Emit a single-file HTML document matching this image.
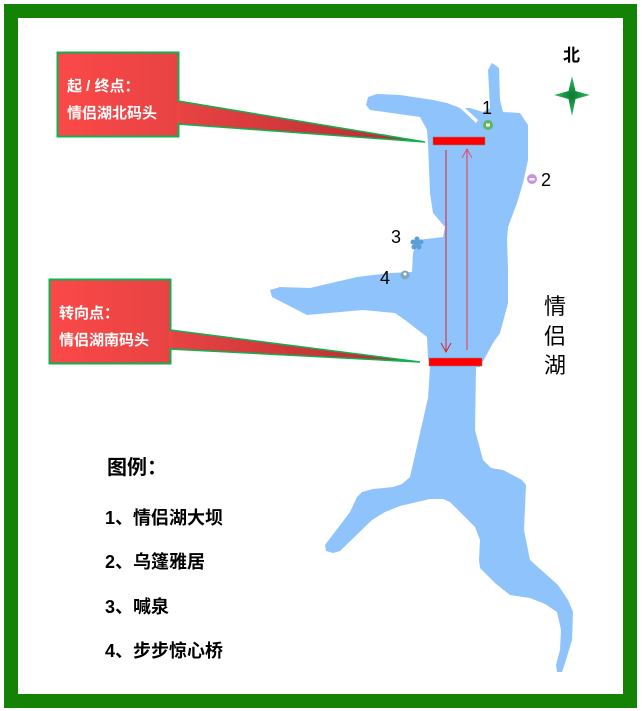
<!DOCTYPE html>
<html><head><meta charset="utf-8"><style>
body{margin:0;background:#fff;}
svg{display:block;}
text{font-family:"Liberation Sans","Noto Sans CJK SC",sans-serif;}
</style></head><body>
<svg width="642" height="711" viewBox="0 0 642 711" xmlns="http://www.w3.org/2000/svg">
<defs>
<linearGradient id="rg" x1="0" x2="1" y1="0" y2="0"><stop offset="0" stop-color="#fb4848"/><stop offset="1" stop-color="#e84343"/></linearGradient>
<linearGradient id="pg" x1="0" x2="1" y1="0" y2="0"><stop offset="0" stop-color="#e84343"/><stop offset="1" stop-color="#b22a30"/></linearGradient>
<radialGradient id="sg"><stop offset="0" stop-color="#0a7a30"/><stop offset="1" stop-color="#2fc060"/></radialGradient>
</defs>
<rect x="0" y="0" width="642" height="711" fill="#fff"/>
<rect x="11" y="11" width="619" height="690" fill="none" stroke="#138205" stroke-width="14"/>
<path fill="#8fc3fc" d="M492,63 L499,68 L500,100 L503,112 L520,113 L528,125 L528,160 L523,183 L517,203 L508,227 L507,240 L508,270 L508,303 L500,333 L493,343 L480,367 L476,367 L475,430 L483,460 L491,468 L503,470 L522,480 L526,485 L524,530 L530,560 L558,585 L568,600 L573,612 L572,640 L566,660 L562,672 L557,672 L556,665 L560,650 L561,630 L557,612 L545,604 L530,598 L510,595 L495,583 L480,568 L479,560 L480,540 L475,527 L455,507 L450,502 L443,499 L430,499 L400,506 L385,512 L372,520 L340,551 L333,553 L326,551 L325,545 L350,512 L357,497 L362,492 L373,489 L393,487 L402,484 L410,477 L428,398 L430,368 L428,358 L427,337 L405,320 L395,313 L363,310 L307,315 L272,297 L270,290 L280,287 L310,288 L357,277 L390,273 L412,272 L413,253 L418,240 L443,237 L445,227 L433,213 L430,193 L428,143 L427,130 L420,117 L370,110 L366,105 L368,97 L377,94 L400,95 L433,100 L447,103 L460,108 L473,120 L476,123 L478,120 L465,108 L470,108 L483,112 L490,108 L488,70 Z"/>
<polygon points="178,101 425,142 178,124" fill="url(#pg)" stroke="#10b050" stroke-width="1.5"/>
<rect x="57.5" y="52.5" width="121" height="84" fill="url(#rg)" stroke="#10b050" stroke-width="2"/>
<rect x="177" y="102" width="3" height="21" fill="#ee4545"/>
<text x="67" y="91" font-size="15" font-weight="bold" fill="#fff">起 / 终点：</text>
<text x="67" y="118" font-size="15" font-weight="bold" fill="#fff">情侣湖北码头</text>
<polygon points="170,330 420,362 170,349" fill="url(#pg)" stroke="#10b050" stroke-width="1.5"/>
<rect x="49.5" y="279.5" width="121" height="84" fill="url(#rg)" stroke="#10b050" stroke-width="2"/>
<rect x="169" y="331" width="3" height="17" fill="#ee4545"/>
<text x="59" y="318" font-size="15" font-weight="bold" fill="#fff">转向点：</text>
<text x="59" y="345" font-size="15" font-weight="bold" fill="#fff">情侣湖南码头</text>
<rect x="433" y="137" width="52" height="8" fill="#ff0000" stroke="#888" stroke-width="0.5"/>
<rect x="429" y="358" width="53" height="8" fill="#ff0000" stroke="#888" stroke-width="0.5"/>
<line x1="446" y1="150" x2="446" y2="352" stroke="#e02020" stroke-width="1"/>
<polyline points="441,343 446,352 451,343" fill="none" stroke="#e02020" stroke-width="1"/>
<line x1="467" y1="350" x2="467" y2="149" stroke="#e0506a" stroke-width="1.3"/>
<polyline points="462,158 467,149 472,158" fill="none" stroke="#e0506a" stroke-width="1"/>
<circle cx="488" cy="125" r="5" fill="#5cb85c"/><rect x="486" y="123.5" width="4" height="3" fill="#fff"/>
<text x="482" y="114" font-size="18" fill="#000">1</text>
<circle cx="532" cy="179" r="5" fill="#c890e8"/><rect x="529.5" y="178" width="5" height="2.5" fill="#fff"/>
<text x="541" y="186" font-size="18" fill="#000">2</text>
<text x="391" y="243" font-size="18" fill="#000">3</text>
<g fill="#5a9fd8"><circle cx="417" cy="243" r="3"/><circle cx="417" cy="239" r="2.5"/><circle cx="421" cy="242" r="2.5"/><circle cx="419" cy="247" r="2.5"/><circle cx="414" cy="247" r="2.5"/><circle cx="413" cy="242" r="2.5"/></g>
<circle cx="405" cy="275" r="4.5" fill="#7fa8c0"/><circle cx="405" cy="274" r="1.5" fill="#fff"/>
<text x="380" y="284" font-size="18" fill="#000">4</text>
<text x="563" y="61" font-size="17" font-weight="bold" fill="#000">北</text>
<path d="M572,76 L575.5,91 L590,95 L575.5,99 L572,116 L568.5,99 L554,95 L568.5,91 Z" fill="url(#sg)"/>
<text x="544" y="314" font-size="22" fill="#000">情</text>
<text x="544" y="344" font-size="22" fill="#000">侣</text>
<text x="544" y="373" font-size="22" fill="#000">湖</text>
<text x="107" y="474" font-size="20" font-weight="bold" fill="#000">图例：</text>
<text x="105" y="524" font-size="18" font-weight="bold" fill="#000">1、情侣湖大坝</text>
<text x="105" y="568" font-size="18" font-weight="bold" fill="#000">2、乌篷雅居</text>
<text x="105" y="613" font-size="18" font-weight="bold" fill="#000">3、喊泉</text>
<text x="105" y="657" font-size="18" font-weight="bold" fill="#000">4、步步惊心桥</text>
</svg>
</body></html>
